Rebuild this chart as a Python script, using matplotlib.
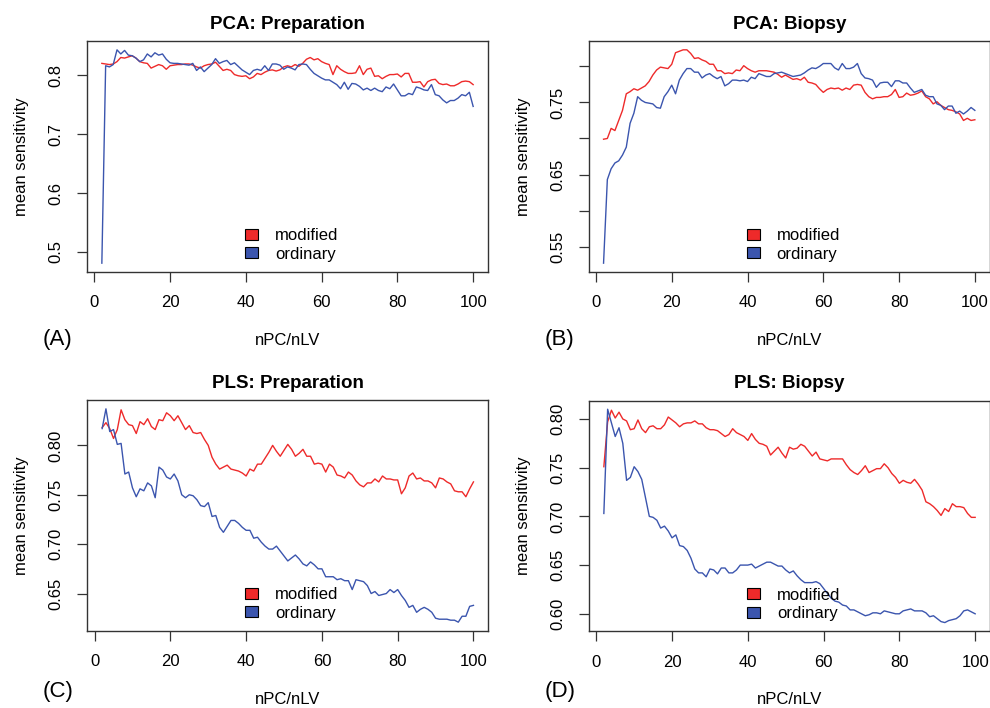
import numpy as np
import matplotlib
matplotlib.use("Agg")
import matplotlib.pyplot as plt
from matplotlib.patches import Patch

plt.rcParams['font.family'] = ['Liberation Sans', 'DejaVu Sans']

RED = '#EE2A2A'
BLUE = '#3B55AE'

npc = np.arange(2, 101)

pca_prep_modified = [
    0.820, 0.819, 0.818, 0.819, 0.823, 0.830, 0.829, 0.831, 0.833, 0.829,
    0.823, 0.821, 0.820, 0.812, 0.815, 0.818, 0.816, 0.810, 0.816, 0.817,
    0.818, 0.818, 0.819, 0.819, 0.817, 0.814, 0.812, 0.816, 0.818, 0.819,
    0.822, 0.815, 0.808, 0.810, 0.808, 0.801, 0.799, 0.798, 0.799, 0.794,
    0.797, 0.803, 0.801, 0.805, 0.808, 0.809, 0.807, 0.809, 0.814, 0.816,
    0.814, 0.818, 0.815, 0.820, 0.827, 0.830, 0.826, 0.828, 0.823, 0.820,
    0.818, 0.801, 0.816, 0.810, 0.806, 0.803, 0.803, 0.804, 0.816, 0.801,
    0.810, 0.812, 0.798, 0.799, 0.794, 0.798, 0.801, 0.801, 0.802, 0.797,
    0.803, 0.803, 0.788, 0.788, 0.789, 0.780, 0.789, 0.792, 0.793, 0.786,
    0.784, 0.785, 0.782, 0.782, 0.785, 0.789, 0.790, 0.789, 0.784]
pca_prep_ordinary = [
    0.481, 0.816, 0.814, 0.818, 0.843, 0.836, 0.842, 0.834, 0.833, 0.829,
    0.823, 0.826, 0.836, 0.831, 0.838, 0.834, 0.836, 0.827, 0.821, 0.820,
    0.820, 0.819, 0.818, 0.817, 0.820, 0.808, 0.814, 0.806, 0.812, 0.818,
    0.828, 0.820, 0.823, 0.825, 0.818, 0.821, 0.815, 0.809, 0.805, 0.801,
    0.808, 0.810, 0.808, 0.816, 0.808, 0.819, 0.819, 0.817, 0.810, 0.814,
    0.812, 0.809, 0.818, 0.819, 0.818, 0.810, 0.803, 0.799, 0.795, 0.792,
    0.792, 0.788, 0.784, 0.777, 0.788, 0.776, 0.786, 0.785, 0.781, 0.775,
    0.778, 0.774, 0.778, 0.774, 0.772, 0.780, 0.777, 0.785, 0.775, 0.765,
    0.765, 0.769, 0.767, 0.780, 0.778, 0.775, 0.774, 0.784, 0.767, 0.765,
    0.758, 0.753, 0.757, 0.757, 0.761, 0.767, 0.765, 0.771, 0.747]

pca_biopsy_modified = [
    0.699, 0.700, 0.714, 0.711, 0.725, 0.739, 0.762, 0.765, 0.769, 0.767,
    0.770, 0.773, 0.779, 0.788, 0.795, 0.799, 0.798, 0.797, 0.803, 0.819,
    0.821, 0.823, 0.823, 0.818, 0.811, 0.812, 0.809, 0.807, 0.803, 0.803,
    0.794, 0.794, 0.790, 0.791, 0.790, 0.795, 0.794, 0.801, 0.797, 0.794,
    0.792, 0.794, 0.794, 0.794, 0.793, 0.792, 0.789, 0.785, 0.788, 0.785,
    0.782, 0.783, 0.781, 0.785, 0.778, 0.777, 0.775, 0.769, 0.764, 0.768,
    0.770, 0.769, 0.770, 0.767, 0.770, 0.768, 0.774, 0.775, 0.774, 0.764,
    0.758, 0.755, 0.757, 0.757, 0.758, 0.758, 0.761, 0.768, 0.757, 0.758,
    0.763, 0.760, 0.761, 0.763, 0.766, 0.758, 0.755, 0.748, 0.751, 0.746,
    0.743, 0.740, 0.739, 0.737, 0.734, 0.725, 0.728, 0.725, 0.726]
pca_biopsy_ordinary = [
    0.527, 0.643, 0.658, 0.666, 0.669, 0.677, 0.688, 0.721, 0.735, 0.758,
    0.753, 0.750, 0.749, 0.748, 0.743, 0.742, 0.758, 0.765, 0.774, 0.762,
    0.781, 0.790, 0.797, 0.797, 0.792, 0.792, 0.784, 0.788, 0.790, 0.786,
    0.783, 0.786, 0.773, 0.776, 0.781, 0.781, 0.780, 0.781, 0.779, 0.785,
    0.783, 0.790, 0.788, 0.786, 0.786, 0.790, 0.791, 0.792, 0.790, 0.788,
    0.786, 0.787, 0.788, 0.791, 0.795, 0.798, 0.797, 0.800, 0.804, 0.804,
    0.804, 0.798, 0.795, 0.804, 0.797, 0.797, 0.799, 0.804, 0.790, 0.784,
    0.783, 0.781, 0.771, 0.777, 0.778, 0.778, 0.772, 0.780, 0.780, 0.777,
    0.777, 0.770, 0.764, 0.766, 0.768, 0.760, 0.758, 0.758, 0.748, 0.746,
    0.740, 0.745, 0.745, 0.735, 0.738, 0.734, 0.738, 0.743, 0.739]

pls_prep_modified = [
    0.818, 0.823, 0.817, 0.807, 0.816, 0.836, 0.826, 0.821, 0.820, 0.812,
    0.824, 0.821, 0.827, 0.819, 0.816, 0.826, 0.825, 0.833, 0.830, 0.825,
    0.830, 0.823, 0.816, 0.820, 0.813, 0.812, 0.813, 0.806, 0.800, 0.788,
    0.781, 0.776, 0.778, 0.780, 0.776, 0.775, 0.774, 0.772, 0.769, 0.776,
    0.774, 0.781, 0.781, 0.787, 0.793, 0.800, 0.794, 0.789, 0.795, 0.801,
    0.796, 0.789, 0.792, 0.796, 0.789, 0.789, 0.781, 0.782, 0.781, 0.773,
    0.781, 0.778, 0.770, 0.769, 0.767, 0.773, 0.770, 0.764, 0.760, 0.758,
    0.762, 0.762, 0.766, 0.763, 0.769, 0.766, 0.766, 0.765, 0.765, 0.751,
    0.757, 0.769, 0.772, 0.766, 0.767, 0.764, 0.764, 0.762, 0.757, 0.767,
    0.766, 0.763, 0.761, 0.754, 0.753, 0.753, 0.748, 0.756, 0.763]
pls_prep_ordinary = [
    0.817, 0.837, 0.814, 0.816, 0.801, 0.802, 0.771, 0.773, 0.757, 0.748,
    0.756, 0.754, 0.762, 0.759, 0.747, 0.778, 0.775, 0.768, 0.766, 0.771,
    0.764, 0.750, 0.747, 0.750, 0.749, 0.745, 0.739, 0.738, 0.742, 0.728,
    0.729, 0.717, 0.712, 0.718, 0.724, 0.724, 0.721, 0.717, 0.714, 0.714,
    0.706, 0.707, 0.702, 0.698, 0.695, 0.695, 0.698, 0.693, 0.688, 0.683,
    0.686, 0.689, 0.685, 0.680, 0.678, 0.682, 0.679, 0.675, 0.675, 0.667,
    0.667, 0.667, 0.664, 0.665, 0.663, 0.663, 0.654, 0.664, 0.663, 0.662,
    0.658, 0.650, 0.652, 0.648, 0.649, 0.650, 0.654, 0.651, 0.654, 0.648,
    0.643, 0.636, 0.638, 0.631, 0.634, 0.636, 0.634, 0.631, 0.625, 0.624,
    0.624, 0.624, 0.623, 0.623, 0.621, 0.627, 0.627, 0.637, 0.638]

pls_biopsy_modified = [
    0.751, 0.797, 0.809, 0.801, 0.807, 0.800, 0.798, 0.789, 0.790, 0.799,
    0.790, 0.786, 0.792, 0.793, 0.790, 0.790, 0.794, 0.802, 0.799, 0.796,
    0.792, 0.795, 0.796, 0.796, 0.798, 0.795, 0.795, 0.791, 0.789, 0.789,
    0.788, 0.785, 0.782, 0.784, 0.790, 0.786, 0.784, 0.782, 0.778, 0.785,
    0.779, 0.775, 0.774, 0.772, 0.763, 0.767, 0.771, 0.765, 0.760, 0.771,
    0.769, 0.770, 0.774, 0.772, 0.767, 0.762, 0.766, 0.759, 0.758, 0.757,
    0.759, 0.759, 0.759, 0.759, 0.753, 0.748, 0.745, 0.743, 0.747, 0.752,
    0.745, 0.747, 0.749, 0.749, 0.754, 0.750, 0.744, 0.740, 0.734, 0.737,
    0.735, 0.734, 0.738, 0.733, 0.727, 0.715, 0.713, 0.710, 0.706, 0.701,
    0.708, 0.705, 0.713, 0.710, 0.710, 0.709, 0.703, 0.699, 0.699]
pls_biopsy_ordinary = [
    0.703, 0.810, 0.796, 0.782, 0.791, 0.775, 0.737, 0.740, 0.751, 0.746,
    0.738, 0.719, 0.700, 0.699, 0.696, 0.688, 0.690, 0.685, 0.678, 0.681,
    0.670, 0.669, 0.665, 0.657, 0.646, 0.642, 0.642, 0.638, 0.646, 0.645,
    0.641, 0.647, 0.647, 0.642, 0.642, 0.645, 0.650, 0.650, 0.650, 0.651,
    0.647, 0.649, 0.651, 0.653, 0.653, 0.651, 0.649, 0.649, 0.645, 0.642,
    0.644, 0.639, 0.635, 0.632, 0.632, 0.632, 0.633, 0.631, 0.626, 0.621,
    0.616, 0.613, 0.612, 0.609, 0.608, 0.604, 0.604, 0.602, 0.600, 0.598,
    0.599, 0.601, 0.601, 0.600, 0.603, 0.602, 0.601, 0.600, 0.600, 0.603,
    0.604, 0.605, 0.603, 0.603, 0.603, 0.601, 0.597, 0.598, 0.595, 0.592,
    0.591, 0.593, 0.594, 0.595, 0.598, 0.603, 0.604, 0.602, 0.600]

panels = [
    ("PCA: Preparation", pca_prep_modified, pca_prep_ordinary,
     [0.5, 0.6, 0.7, 0.8], ["0.5", "0.6", "0.7", "0.8"], "(A)"),
    ("PCA: Biopsy", pca_biopsy_modified, pca_biopsy_ordinary,
     [0.55, 0.60, 0.65, 0.70, 0.75, 0.80], ["0.55", "", "0.65", "", "0.75", ""], "(B)"),
    ("PLS: Preparation", pls_prep_modified, pls_prep_ordinary,
     [0.65, 0.70, 0.75, 0.80], ["0.65", "0.70", "0.75", "0.80"], "(C)"),
    ("PLS: Biopsy", pls_biopsy_modified, pls_biopsy_ordinary,
     [0.60, 0.65, 0.70, 0.75, 0.80], ["0.60", "0.65", "0.70", "0.75", "0.80"], "(D)"),
]

W, H = 990, 708
fig = plt.figure(figsize=(W / 100, H / 100), dpi=100)

# axes boxes in pixels: left, top
boxes = [(87, 41.3), (588.7, 41.3), (87.3, 400.3), (589, 400.7)]
box_w, box_h = 401, 230.4
tag_pos = [(57.7, 339), (559.5, 339), (58, 691), (560, 691)]

for (title, mod, ordi, yt, ytl, tag), (bx, by), (tx, ty) in zip(panels, boxes, tag_pos):
    ax = fig.add_axes([bx / W, 1 - (by + box_h) / H, box_w / W, box_h / H])
    ax.plot(npc, mod, color=RED, lw=1.0)
    ax.plot(npc, ordi, color=BLUE, lw=1.0)
    ax.margins(x=0.04, y=0.04)

    ax.set_xticks([0, 20, 40, 60, 80, 100])
    ax.set_yticks(yt)
    ax.set_yticklabels(ytl)
    ax.tick_params(direction='out', length=7, width=0.9, color='#333333',
                   labelsize=12, pad=10)
    ax.tick_params(axis='y', labelrotation=90)
    for lab in ax.get_yticklabels():
        lab.set_va('center')
    for sp in ax.spines.values():
        sp.set_color('#333333')
        sp.set_linewidth(1.0)

    ax.set_title(title, fontsize=13.5, fontweight='bold', pad=9)
    ax.set_ylabel('mean sensitivity', fontsize=12, labelpad=14)
    ax.set_xlabel('nPC/nLV', fontsize=12, labelpad=16)

    handles = [Patch(facecolor=RED, edgecolor='black', lw=0.8, label='modified'),
               Patch(facecolor=BLUE, edgecolor='black', lw=0.8, label='ordinary')]
    ax.legend(handles=handles, loc='lower center', bbox_to_anchor=(0.51, 0.0),
              frameon=False, fontsize=12, handlelength=0.8, handleheight=0.65,
              handletextpad=1.0, labelspacing=0.2, borderaxespad=0.2)

    fig.text(tx / W, 1 - ty / H, tag, fontsize=16, ha='center', va='center')

fig.savefig('out.png', dpi=100)
